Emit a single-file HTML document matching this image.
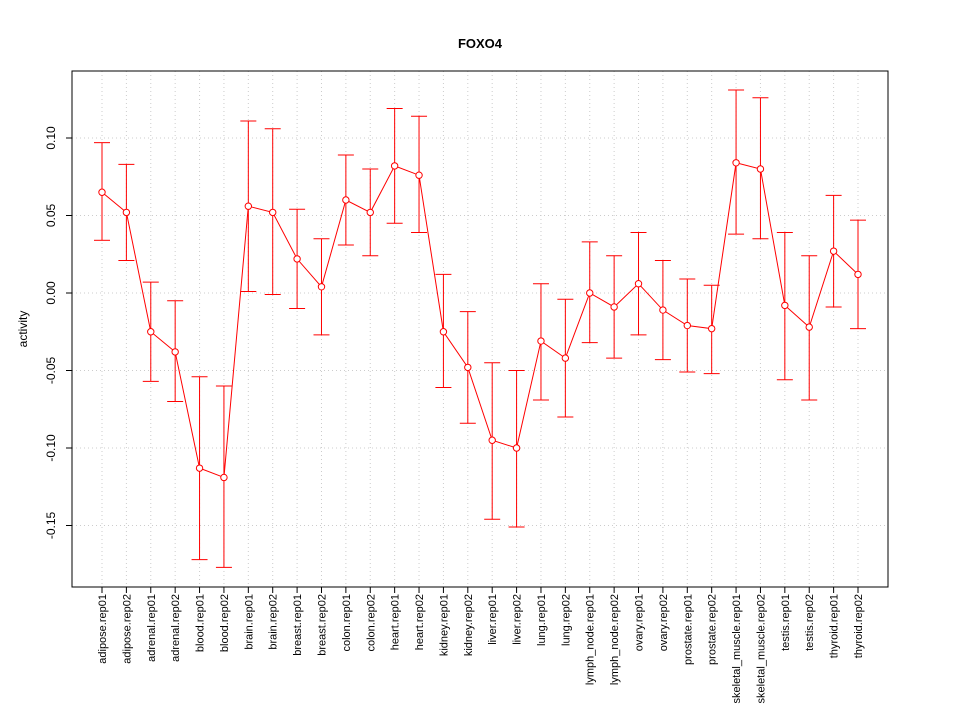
<!DOCTYPE html>
<html><head><meta charset="utf-8"><style>body{margin:0;background:#fff}svg{display:block;font-family:"Liberation Sans",sans-serif}</style></head>
<body>
<svg id="c" width="960" height="720"></svg>
<script>
const categories=["adipose.rep01","adipose.rep02","adrenal.rep01","adrenal.rep02","blood.rep01","blood.rep02","brain.rep01","brain.rep02","breast.rep01","breast.rep02","colon.rep01","colon.rep02","heart.rep01","heart.rep02","kidney.rep01","kidney.rep02","liver.rep01","liver.rep02","lung.rep01","lung.rep02","lymph_node.rep01","lymph_node.rep02","ovary.rep01","ovary.rep02","prostate.rep01","prostate.rep02","skeletal_muscle.rep01","skeletal_muscle.rep02","testis.rep01","testis.rep02","thyroid.rep01","thyroid.rep02"];
const values=[0.065,0.052,-0.025,-0.038,-0.113,-0.119,0.056,0.052,0.022,0.004,0.060,0.052,0.082,0.076,-0.025,-0.048,-0.095,-0.100,-0.031,-0.042,0.000,-0.009,0.006,-0.011,-0.021,-0.023,0.084,0.080,-0.008,-0.022,0.027,0.012];
const upper=[0.097,0.083,0.007,-0.005,-0.054,-0.060,0.111,0.106,0.054,0.035,0.089,0.080,0.119,0.114,0.012,-0.012,-0.045,-0.050,0.006,-0.004,0.033,0.024,0.039,0.021,0.009,0.005,0.131,0.126,0.039,0.024,0.063,0.047];
const lower=[0.034,0.021,-0.057,-0.070,-0.172,-0.177,0.001,-0.001,-0.010,-0.027,0.031,0.024,0.045,0.039,-0.061,-0.084,-0.146,-0.151,-0.069,-0.080,-0.032,-0.042,-0.027,-0.043,-0.051,-0.052,0.038,0.035,-0.056,-0.069,-0.009,-0.023];
const yTicks=[0.10,0.05,0.00,-0.05,-0.10,-0.15];
const yTickLabels=["0.10","0.05","0.00","-0.05","-0.10","-0.15"];
const svg=document.getElementById('c');const NS="http://www.w3.org/2000/svg";
function mk(t,a,p){const e=document.createElementNS(NS,t);for(const k in a)e.setAttribute(k,a[k]);(p||svg).appendChild(e);return e;}
const L=72,R=888,T=71,B=587;
const x=i=>102+i*(858-102)/(categories.length-1);
const y=v=>293-v*1550;
let t=mk('text',{x:480,y:48,'text-anchor':'middle','font-size':13,'font-weight':'bold'});t.textContent="FOXO4";

t=mk('text',{x:0,y:0,transform:'translate(27,329) rotate(-90)','text-anchor':'middle','font-size':12});t.textContent="activity";

const grid=mk('g',{stroke:'#ccc','stroke-dasharray':'1,3'});

categories.forEach((c,i)=>mk('line',{x1:x(i),x2:x(i),y1:T,y2:B},grid));
yTicks.forEach(v=>mk('line',{x1:L,x2:R,y1:y(v),y2:y(v)},grid));
const fr=mk('rect',{x:L,y:T,width:R-L,height:B-T,fill:'none',stroke:'#000'});

const ya=mk('g',{});
yTicks.forEach((v,i)=>{mk('line',{x1:L-6,x2:L,y1:y(v),y2:y(v),stroke:'#000'},ya);
const tt=mk('text',{x:0,y:0,transform:`translate(55,${y(v)}) rotate(-90)`,'text-anchor':'middle','font-size':12},ya);tt.textContent=yTickLabels[i];});
const xa=mk('g',{});
mk('line',{x1:x(0),x2:x(categories.length-1),y1:B,y2:B,stroke:'#000'},xa);
categories.forEach((c,i)=>{mk('line',{x1:x(i),x2:x(i),y1:B,y2:B+6,stroke:'#000'},xa);
const tt=mk('text',{x:0,y:0,transform:`translate(${x(i)+4},594) rotate(-90)`,'text-anchor':'end','font-size':11},xa);tt.textContent=c;});
const s=mk('g',{stroke:'#f00',fill:'none'});
mk('polyline',{points:values.map((v,i)=>x(i)+','+y(v)).join(' ')},s);
categories.forEach((c,i)=>{const g=mk('g',{},s);

mk('line',{x1:x(i),x2:x(i),y1:y(upper[i]),y2:y(lower[i])},g);
mk('line',{x1:x(i)-8,x2:x(i)+8,y1:y(upper[i]),y2:y(upper[i])},g);
mk('line',{x1:x(i)-8,x2:x(i)+8,y1:y(lower[i]),y2:y(lower[i])},g);
const p=mk('circle',{cx:x(i),cy:y(values[i]),r:3.2,fill:'#fff'},g);
});
</script>
</body></html>
